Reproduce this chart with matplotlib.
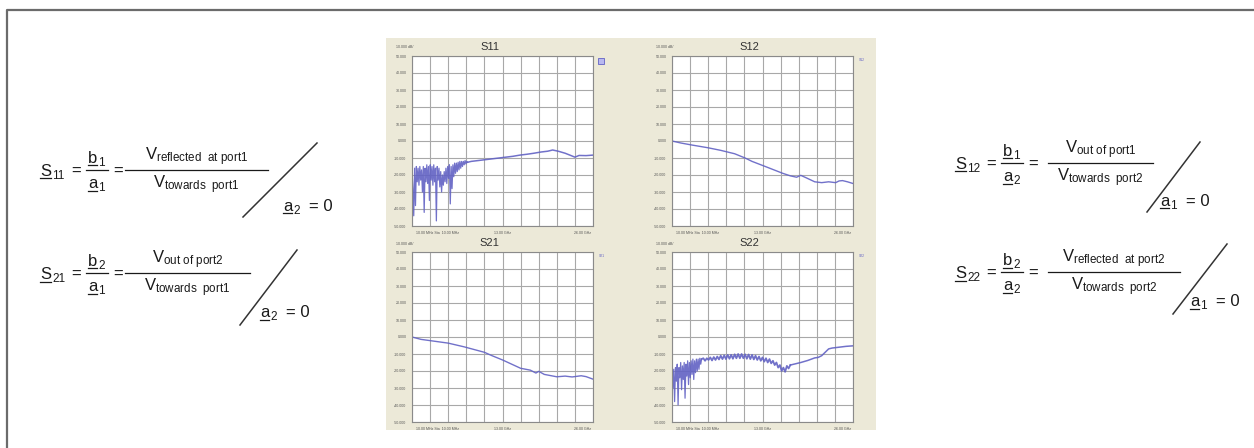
import numpy as np
import matplotlib
matplotlib.use('Agg')
import matplotlib.pyplot as plt
from matplotlib.lines import Line2D
from matplotlib.patches import Rectangle

plt.rcParams['mathtext.fontset'] = 'custom'
plt.rcParams['mathtext.rm'] = 'Liberation Sans'
plt.rcParams['mathtext.it'] = 'Liberation Sans:italic'
plt.rcParams['font.family'] = ['Liberation Sans', 'DejaVu Sans']

# -=-=-=-=-=-=- data (dB vs GHz) -=-=-=-=-=-=- #

y_ticks = [50, 40, 30, 20, 10, 0, -10, -20, -30, -40, -50]
y_labels = ['50.000', '40.000', '30.000', '20.000', '10.000', '0.000',
            '-10.000', '-20.000', '-30.000', '-40.000', '-50.000']
x_labels = ['10.00 MHz Sta  10.00 MHz', '13.00 GHz', '26.00 GHz']
titles = ['S11', 'S12', 'S21', 'S22']

# S11 : noisy low band + smooth rest
s11_noise_f = [0.0, 0.125, 0.25, 0.375, 0.5, 0.625, 0.75, 0.875,
               1.0, 1.125, 1.25, 1.375, 1.5, 1.625, 1.75, 1.875,
               2.0, 2.125, 2.25, 2.375, 2.5, 2.625, 2.75, 2.875,
               3.0, 3.125, 3.25, 3.375, 3.5, 3.625, 3.75, 3.875,
               4.0, 4.125, 4.25, 4.375, 4.5, 4.625, 4.75, 4.875,
               5.0, 5.125, 5.25, 5.375, 5.5, 5.625, 5.75, 5.875,
               6.0, 6.125, 6.25, 6.375, 6.5, 6.625, 6.75, 6.875,
               7.0, 7.125, 7.25, 7.375, 7.5, 7.625, 7.75, 7.875, 8.0]
s11_noise_db = [-17, -28, -44, -16, -38, -15, -24, -16,
                -26, -15, -23, -17, -30, -15, -42, -16,
                -24, -14, -25, -15, -35, -14, -23, -15,
                -26, -14, -24, -16, -47, -15, -23, -16,
                -27, -18, -30, -20, -26, -18, -24, -16,
                -25, -15, -22, -14, -37, -15, -28, -14,
                -21, -13, -19, -13, -18, -12.5, -17, -12,
                -16, -12, -15, -12, -14, -11.5, -13.5, -12, -12.5]
s11_f = [8.5, 9.5, 10.5, 11.5, 12.5, 13.5, 14.5, 15.5, 16.5, 17.5,
         18.5, 19.5, 20.2, 21.0, 22.0, 22.8, 23.4, 24.0, 25.0, 26.0]
s11_db = [-12, -11.5, -11, -10.5, -10, -9.5, -9, -8.3, -7.8, -7.2,
          -6.5, -6, -5.3, -6, -7.2, -8.5, -9.5, -8.5, -8.6, -8.3]

# S12 / S21 : transmission, smooth roll-off
s12_f = [0, 1.3, 2.9, 5.2, 7.0, 9.0, 10.5, 11.5, 13.4, 15.9, 17.0,
         17.9, 18.5, 19.2, 20.5, 21.5, 22.5, 23.5, 24.0, 24.5, 25.2, 26.0]
s12_db = [0, -1.2, -2.4, -4, -5.5, -7.5, -10, -12, -15, -19, -20.5,
          -21.3, -20.2, -21.5, -24, -24.5, -24, -24.5, -23.5, -23.3, -24, -25]
s21_f = [0, 1.3, 5.2, 7.5, 10.4, 11.5, 13.0, 15.6, 17.0, 17.8, 18.2,
         19.0, 20.8, 22.0, 23.0, 24.3, 25.0, 26.0]
s21_db = [0, -1.4, -3.6, -5.8, -9, -11, -13.5, -18.4, -19.5, -21.2, -20.2,
          -22, -23.4, -23, -23.5, -22.8, -23.3, -24.8]

# S22 : noisy start, ripple band, dip near 16 GHz
s22_noise_f = [0.0, 0.125, 0.25, 0.375, 0.5, 0.625, 0.75, 0.875,
               1.0, 1.125, 1.25, 1.375, 1.5, 1.625, 1.75, 1.875,
               2.0, 2.125, 2.25, 2.375, 2.5, 2.625, 2.75, 2.875,
               3.0, 3.125, 3.25, 3.375, 3.5, 3.625, 3.75, 3.875,
               4.0, 4.125, 4.25]
s22_noise_db = [-17, -30, -19, -38, -18, -26, -16, -40,
                -18, -24, -15, -31, -17, -25, -15, -36,
                -16, -23, -14, -28, -15, -24, -14, -22,
                -13, -25, -14, -21, -13, -20, -13, -19,
                -12.5, -16, -13]
s22_band_f = [4.5, 4.75, 5, 5.25, 5.5, 5.75, 6, 6.25, 6.5, 6.75,
              7, 7.25, 7.5, 7.75, 8, 8.25, 8.5, 8.75, 9, 9.25,
              9.5, 9.75, 10, 10.25, 10.5, 10.75, 11, 11.25, 11.5, 11.75,
              12, 12.25, 12.5, 12.75, 13, 13.25, 13.5, 13.75, 14, 14.25,
              14.5, 14.75, 15, 15.25, 15.5, 15.75, 16, 16.25, 16.5, 16.75, 17]
s22_band_db = [-12.5, -14, -12.5, -13.5, -12, -13.8, -11.8, -13.5, -11.5, -13.2,
               -11, -13, -10.8, -13, -10.5, -12.8, -10.5, -12.8, -10.2, -12.5,
               -10, -12.5, -10, -12.5, -10.2, -12.8, -10.3, -13, -10.5, -13.2,
               -11, -13.5, -11.5, -14, -12, -14.5, -12.5, -15, -13, -15.5,
               -14, -16.5, -15, -18, -16.5, -20, -18, -20.5, -17, -18.5, -16.5]
s22_f = [17.5, 18.5, 19.5, 20.5, 21.0, 21.5, 22.0, 22.5, 23.0, 24.0, 25.0, 26.0]
s22_db = [-16, -15, -13.8, -12.3, -12, -11, -9, -7, -6.5, -6, -5.5, -5.2]

trace = '#6262c4'

W, H = 1254, 448
fig = plt.figure(figsize=(12.54, 4.48), dpi=100)
fig.patch.set_facecolor('white')


def fx(x):
    return x / W


def fy(y):
    return 1 - y / H


# frame around the whole slide (cut off at right / bottom)
fig.add_artist(Line2D([fx(7), fx(7), 1.0], [0.0, fy(10), fy(10)],
                      color='#6b6b6b', lw=1.6))

# beige analyser window
fig.add_artist(Rectangle((fx(386), fy(430)), fx(876) - fx(386), fy(38) - fy(430),
                         facecolor='#ece9d8', edgecolor='none', zorder=0))

# -=-=-=-=-=-=- the four S-parameter screens -=-=-=-=-=-=- #

boxes = {'S11': (412, 56), 'S12': (672, 56), 'S21': (412, 252), 'S22': (672, 252)}
aw, ah = 181, 170

# (freq, dB, line width) pieces per trace
curves = {
    'S11': [(s11_noise_f, s11_noise_db, 0.9),
            ([s11_noise_f[-1]] + s11_f, [s11_noise_db[-1]] + s11_db, 1.1)],
    'S12': [(s12_f, s12_db, 1.0)],
    'S21': [(s21_f, s21_db, 1.0)],
    'S22': [(s22_noise_f, s22_noise_db, 0.9),
            ([s22_noise_f[-1]] + s22_band_f, [s22_noise_db[-1]] + s22_band_db, 1.3),
            ([s22_band_f[-1]] + s22_f, [s22_band_db[-1]] + s22_db, 1.1)],
}

for name in titles:
    left, top = boxes[name]
    ax = fig.add_axes([fx(left), fy(top + ah), aw / W, ah / H])
    ax.set_facecolor('white')
    for f, db, w in curves[name]:
        ax.plot(f, db, color=trace, lw=w, alpha=0.9)
    ax.set_xlim(0, 26)
    ax.set_ylim(-50, 50)
    ax.set_xticks(np.linspace(0, 26, 11))
    ax.set_yticks(y_ticks)
    ax.set_yticklabels(y_labels)
    ax.set_xticklabels([])
    ax.grid(True, color='#a8a8a8', lw=0.8)
    ax.tick_params(length=0, labelsize=2.6, labelcolor='#555555', pad=4)
    for s in ax.spines.values():
        s.set_color('#8a8a8a')
        s.set_linewidth(0.8)
    # x labels: start, centre, stop
    ax.text(0.02, -0.03, x_labels[0], transform=ax.transAxes, fontsize=2.6,
            color='#555555', ha='left', va='top')
    ax.text(0.5, -0.03, x_labels[1], transform=ax.transAxes, fontsize=2.6,
            color='#555555', ha='center', va='top')
    ax.text(0.99, -0.03, x_labels[2], transform=ax.transAxes, fontsize=2.6,
            color='#555555', ha='right', va='top')
    ax.text(-0.04, 1.05, '10.000 dB/', transform=ax.transAxes, fontsize=2.6,
            color='#555555', ha='center', va='center')
    ax.text(0.43, 1.055, name, transform=ax.transAxes, fontsize=8,
            color='#333333', ha='center', va='center')
    if name == 'S11':
        ax.add_artist(Rectangle((1.025, 0.955), 0.035, 0.035, transform=ax.transAxes,
                                facecolor='#b8b8f0', edgecolor=trace, lw=0.6,
                                clip_on=False))
    else:
        ax.text(1.03, 0.975, name, transform=ax.transAxes, fontsize=2.4,
                color=trace, ha='left', va='center')

# -=-=-=-=-=-=- definitions of the S-parameters -=-=-=-=-=-=- #

ink = '#1a1a1a'


def put(x, y, s, size=12.0, ha='left'):
    fig.text(fx(x), fy(y), s, fontsize=size, ha=ha, va='baseline', color=ink)


def hline(x0, x1, y, lw=0.9):
    fig.add_artist(Line2D([fx(x0), fx(x1)], [fy(y), fy(y)], color=ink, lw=lw))


def letter(x, y, ch, sub, w=9):
    put(x, y, ch)
    hline(x, x + w, y + 2.5)
    put(x + w + 1, y + 3, sub, size=8.5)


def formula(x0, yb, s_sub, b_sub, a_sub, v_num, v_den, bar0, bar1, zero_sub, zx, zy, slash):
    letter(x0, yb + 6, 'S', s_sub, w=11)
    put(x0 + 36, yb + 5.5, '=', ha='center')
    xb = x0 + 48
    letter(xb, yb - 7, 'b', b_sub)
    hline(xb - 2, xb + 20, yb)
    letter(xb, yb + 18, 'a', a_sub)
    put(xb + 30, yb + 5.5, '=', ha='center')
    hline(bar0, bar1, yb)
    xc = (bar0 + bar1) / 2
    put(xc, yb - 10, v_num, ha='center')
    put(xc, yb + 18, v_den, ha='center')
    fig.add_artist(Line2D([fx(slash[0]), fx(slash[2])], [fy(slash[1]), fy(slash[3])],
                          color='#333333', lw=1.1))
    letter(zx, zy, 'a', zero_sub)
    put(zx + 26, zy, '= 0')


formula(40, 170, '11', '1', '1',
        r'$\mathrm{V}_{\mathrm{reflected\ \ at\ port1}}$', r'$\mathrm{V}_{\mathrm{towards\ \ port1}}$',
        125, 268, '2', 283, 211, (243, 217, 317, 143))
formula(40, 273, '21', '2', '1',
        r'$\mathrm{V}_{\mathrm{out\ of\ port2}}$', r'$\mathrm{V}_{\mathrm{towards\ \ port1}}$',
        125, 250, '2', 260, 317, (240, 325, 297, 250))
formula(955, 163, '12', '1', '2',
        r'$\mathrm{V}_{\mathrm{out\ of\ port1}}$', r'$\mathrm{V}_{\mathrm{towards\ \ port2}}$',
        1048, 1153, '1', 1160, 206, (1147, 212, 1200, 142))
formula(955, 272, '22', '2', '2',
        r'$\mathrm{V}_{\mathrm{reflected\ \ at\ port2}}$', r'$\mathrm{V}_{\mathrm{towards\ \ port2}}$',
        1048, 1180, '1', 1190, 306, (1173, 314, 1227, 244))

fig.savefig('out.png', dpi=100)
